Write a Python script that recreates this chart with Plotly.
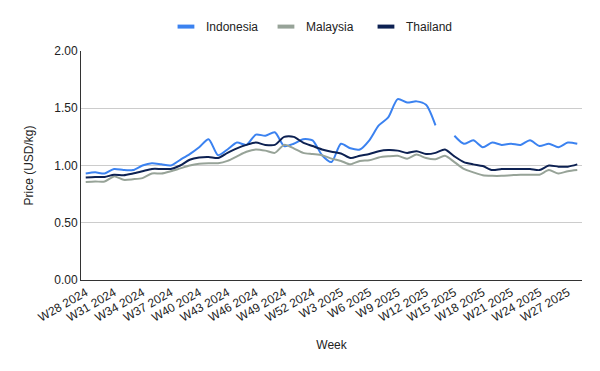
import plotly.graph_objects as go

weeks = [f"W{w} 2024" for w in range(28, 53)] + [f"W{w} 2025" for w in range(1, 29)]

indonesia = [0.93, 0.94, 0.93, 0.97, 0.96, 0.96, 1.00, 1.02, 1.01, 1.00,
             1.05, 1.10, 1.16, 1.23, 1.09, 1.14, 1.20, 1.18, 1.27, 1.26,
             1.29, 1.17, 1.19, 1.23, 1.22, 1.09, 1.03, 1.19, 1.15, 1.14,
             1.22, 1.35, 1.42, 1.58, 1.55, 1.56, 1.53, 1.35, None, 1.26,
             1.19, 1.22, 1.16, 1.20, 1.18, 1.19, 1.18, 1.22, 1.17, 1.19,
             1.16, 1.20, 1.19]
malaysia = [0.855, 0.86, 0.86, 0.905, 0.875, 0.88, 0.89, 0.93, 0.93, 0.95,
            0.975, 1.00, 1.015, 1.02, 1.02, 1.04, 1.08, 1.12, 1.14, 1.13,
            1.11, 1.18, 1.15, 1.11, 1.10, 1.09, 1.06, 1.04, 1.01, 1.04,
            1.045, 1.07, 1.08, 1.085, 1.06, 1.095, 1.065, 1.055, 1.085, 1.03,
            0.97, 0.94, 0.915, 0.91, 0.91, 0.915, 0.92, 0.92, 0.92, 0.96,
            0.93, 0.95, 0.96]
thailand = [0.895, 0.90, 0.90, 0.92, 0.915, 0.93, 0.95, 0.97, 0.97, 0.97,
            1.00, 1.05, 1.07, 1.075, 1.065, 1.11, 1.15, 1.18, 1.20, 1.18,
            1.18, 1.25, 1.25, 1.20, 1.17, 1.14, 1.12, 1.105, 1.065, 1.085,
            1.10, 1.125, 1.135, 1.13, 1.11, 1.125, 1.10, 1.11, 1.14, 1.08,
            1.03, 1.01, 0.995, 0.96, 0.97, 0.97, 0.97, 0.97, 0.96, 1.00,
            0.99, 0.99, 1.01]

series = [("Indonesia", indonesia, "#3b82f0"),
          ("Malaysia", malaysia, "#97a398"),
          ("Thailand", thailand, "#0d2152")]

tick_labels = weeks[::3][:18]

fig = go.Figure()
for name, vals, col in series:
    fig.add_trace(go.Scatter(x=weeks, y=vals, mode="lines", name=name,
                             line=dict(color=col, width=2, shape="spline", smoothing=0.7),
                             connectgaps=False, showlegend=False))
for name, vals, col in series:
    fig.add_trace(go.Scatter(x=[None], y=[None], mode="markers", name=name,
                             marker=dict(symbol="line-ew-open", size=12, color=col,
                                         line=dict(width=4, color=col)),
                             showlegend=True))

fig.update_layout(
    width=600, height=371,
    margin=dict(l=73, r=26, t=43, b=99, autoexpand=False),
    paper_bgcolor="white", plot_bgcolor="white",
    font=dict(family="Liberation Sans, Arial, sans-serif", size=12, color="#222"),
    legend=dict(orientation="h", x=0.469, xanchor="center", y=0.989, yanchor="top",
                yref="container", font=dict(size=12, color="#222"),
                itemwidth=30, tracegroupgap=0, entrywidth=55, entrywidthmode="pixels"),
    xaxis=dict(type="category", categoryorder="array", categoryarray=weeks,
               tickvals=tick_labels, ticktext=tick_labels, tickangle=-30,
               showgrid=False, showline=True, linecolor="#333", linewidth=1,
               ticks="", range=[-0.5, len(weeks) - 0.5], automargin=False,
               title=dict(text="Week", font=dict(size=12), standoff=17)),
    yaxis=dict(range=[0, 2], tickvals=[0, 0.5, 1.0, 1.5, 2.0],
               tickformat=".2f", showgrid=True, gridcolor="#cccccc", gridwidth=1,
               showline=True, linecolor="#333", linewidth=1, zeroline=False,
               ticks="", automargin=False,
               title=dict(text="Price (USD/kg)", font=dict(size=12), standoff=18)),
)

fig.write_html("out.html")
